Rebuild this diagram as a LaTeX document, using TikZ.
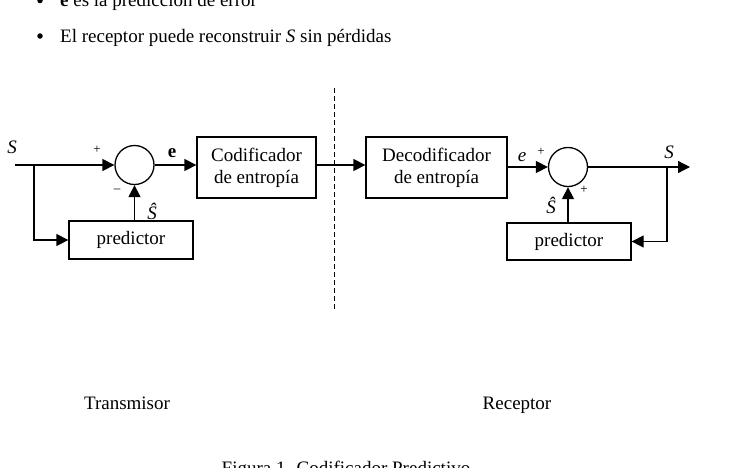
\documentclass[tikz,border=0pt]{standalone}
\usepackage{fontspec}
\setmainfont{Liberation Serif}
\usetikzlibrary{arrows.meta}
\begin{document}
\begin{tikzpicture}[x=1pt,y=-1pt,
  every node/.style={font=\fontsize{19}{22}\selectfont, inner sep=0pt},
  blk/.style={draw, line width=1.3pt, rectangle, align=center},
  sumnode/.style={draw, line width=1.3pt, circle, minimum size=39pt},
  arr/.style={line width=1.3pt, -{Triangle[length=12pt,width=12pt]}},
  sgn/.style={font=\fontsize{13}{15}\selectfont},
  lbl/.style={font=\fontsize{19}{22}\selectfont},
  bul/.style={circle, fill, minimum size=5.5pt}
]
\useasboundingbox (0,0) rectangle (736,467);
\clip (0,0) rectangle (736,467);
% bullets
\node[bul] (b1) at (40,0.5) {};
\node[anchor=base west] (t1) at (60,6.5) {\textbf{e} es la predicción de error};
\node[bul] (b2) at (40,36) {};
\node[anchor=base west] (t2) at (60,42) {El receptor puede reconstruir \textit{S} sin pérdidas};
% transmitter
\coordinate (in1) at (15,165);
\coordinate (br1) at (34,165);
\node[sumnode] (s1) at (134.5,165) {};
\node[blk, minimum width=119pt, minimum height=61pt] (cod) at (256.5,167.5) {Codificador\\de entropía};
\node[blk, minimum width=124pt, minimum height=38pt] (p1) at (131,240) {predictor};
\draw[arr] (in1) -- (s1.west);
\draw[arr] (br1) |- (p1.west);
\draw[arr] (s1.south |- p1.north) -- (s1.south);
\draw[arr] (s1.east) -- (cod.west |- s1.east);
% receiver
\node[blk, minimum width=141pt, minimum height=61pt] (dec) at (436.5,167.5) {Decodificador\\de entropía};
\node[sumnode] (s2) at (568,167) {};
\node[blk, minimum width=124pt, minimum height=37pt] (p2) at (569,241.5) {predictor};
\coordinate (out2) at (690,167);
\coordinate (br2) at (667,167);
\draw[arr] (cod.east |- s1.east) -- (dec.west |- s1.east);
\draw[arr] (dec.east |- s2.west) -- (s2.west);
\draw[arr] (s2.east) -- (out2);
\draw[arr] (br2) |- (p2.east);
\draw[arr] (s2.south |- p2.north) -- (s2.south);
% separator
\coordinate (d1) at (334,88);
\coordinate (d2) at (334,310);
\draw[line width=1pt, dash pattern=on 5pt off 3pt] (d1) -- (d2);
% labels
\node[lbl] (lS1) at (12,147) {\textit{S}};
\node[sgn] (pl1) at (97,150) {+};
\node[sgn] (mi1) at (117,191) {\textendash};
\node[lbl] (le1) at (172,153) {\textbf{e}};
\node[lbl] (lh1) at (152,211) {\textit{Ŝ}};
\node[lbl] (le2) at (522,157) {\textit{e}};
\node[sgn] (pl2) at (541,152) {+};
\node[sgn] (pl3) at (584,190) {+};
\node[lbl] (lS2) at (669,152) {\textit{S}};
\node[lbl] (lh2) at (551,205) {\textit{Ŝ}};
% bottom
\node[anchor=base] (tx) at (127,409) {Transmisor};
\node[anchor=base] (rx) at (517,409) {Receptor};
\node[anchor=base] (cap) at (346,474) {Figura 1. Codificador Predictivo};
\end{tikzpicture}
\end{document}
